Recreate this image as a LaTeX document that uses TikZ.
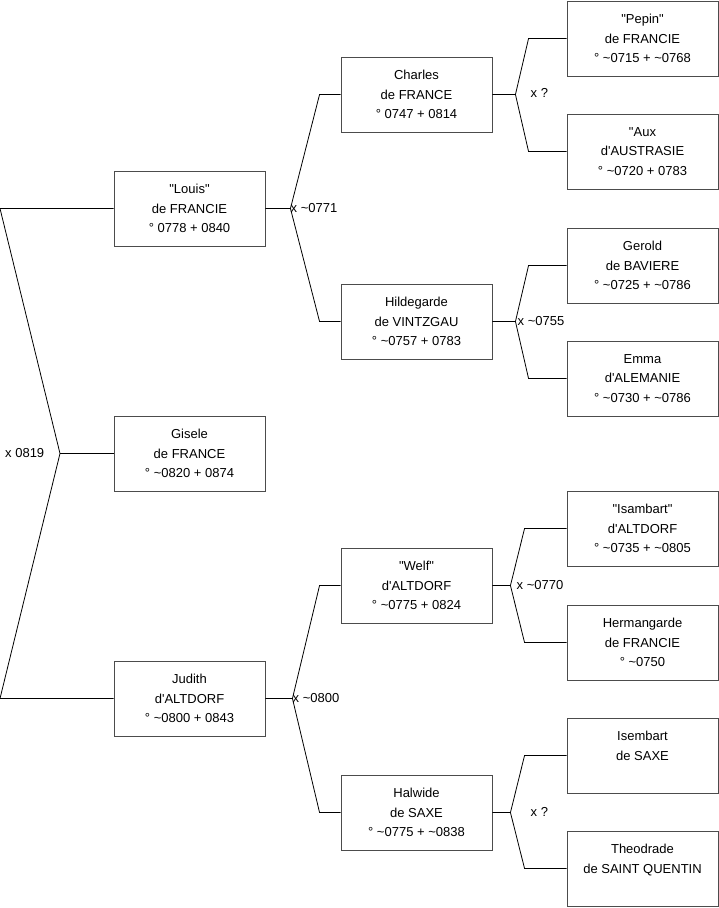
\documentclass[tikz,border=0pt]{standalone}
\usepackage{fontspec}
\usepackage{tikz}
\usetikzlibrary{calc}
\newfontfamily\boxfont{Liberation Sans}
\newcommand{\tld}{\textasciitilde}

\begin{document}
\begin{tikzpicture}[
  x=1pt, y=-1pt,
  every node/.style={font=\boxfont\fontsize{13}{19.7}\selectfont},
  person/.style={draw=black!70, line width=0.9pt, minimum width=151pt,
    minimum height=75pt, inner sep=0pt, align=center},
  union/.style={anchor=west, inner sep=0pt},
  link/.style={draw=black, line width=0.8pt},
]
\useasboundingbox (0,0) rectangle (719,908);

% Child and her parents
\node[person] (louis)  at (189.5,208.5) {"Louis"\\de FRANCIE\\° 0778 + 0840};
\node[person] (gisele) at (189.5,453.5) {Gisele\\de FRANCE\\° \tld0820 + 0874};
\node[person] (judith) at (189.5,698.5) {Judith\\d'ALTDORF\\° \tld0800 + 0843};

% Grandparents
\node[person] (charles)    at (416.5,94.5)  {Charles\\de FRANCE\\° 0747 + 0814};
\node[person] (hildegarde) at (416.5,321.5) {Hildegarde\\de VINTZGAU\\° \tld0757 + 0783};
\node[person] (welf)       at (416.5,585.5) {"Welf"\\d'ALTDORF\\° \tld0775 + 0824};
\node[person] (halwide)    at (416.5,812.5) {Halwide\\de SAXE\\° \tld0775 + \tld0838};

% Great-grandparents
\node[person] (pepin)       at (642.5,38.5)  {"Pepin"\\de FRANCIE\\° \tld0715 + \tld0768};
\node[person] (aux)         at (642.5,151.5) {"Aux\\d'AUSTRASIE\\° \tld0720 + 0783};
\node[person] (gerold)      at (642.5,265.5) {Gerold\\de BAVIERE\\° \tld0725 + \tld0786};
\node[person] (emma)        at (642.5,378.5) {Emma\\d'ALEMANIE\\° \tld0730 + \tld0786};
\node[person] (isambart)    at (642.5,528.5) {"Isambart"\\d'ALTDORF\\° \tld0735 + \tld0805};
\node[person] (hermangarde) at (642.5,642.5) {Hermangarde\\de FRANCIE\\° \tld0750};
\node[person] (isembart)    at (642.5,755.5) {Isembart\\de SAXE\\\mbox{}};
\node[person] (theodrade)   at (642.5,868.5) {Theodrade\\de SAINT QUENTIN\\\mbox{}};

% Root fork
\coordinate (r0) at (60,453.5);
\draw[link] (louis.west) -- (louis.west -| 0,0) -- (r0) -- (judith.west -| 0,0) -- (judith.west);
\draw[link] (r0) -- (gisele.west);
\node[union] at ([xshift=-55pt]r0) {x 0819};

% Parents of Louis
\draw[link] (louis.east) -- ++(25,0) coordinate (m1) -- ([xshift=-21pt]charles.west) -- (charles.west);
\draw[link] (m1) -- ([xshift=-21pt]hildegarde.west) -- (hildegarde.west);
\node[union] at (m1) {x \tld0771};

% Parents of Judith
\draw[link] (judith.east) -- ++(27,0) coordinate (m2) -- ([xshift=-21pt]welf.west) -- (welf.west);
\draw[link] (m2) -- ([xshift=-21pt]halwide.west) -- (halwide.west);
\node[union] at (m2) {x \tld0800};

% Parents of Charles
\draw[link] (charles.east) -- ++(23,0) coordinate (m3) -- ([xshift=-38pt]pepin.west) -- (pepin.west);
\draw[link] (m3) -- ([xshift=-38pt]aux.west) -- (aux.west);
\node[union] at ([xshift=15pt,yshift=2pt]m3) {x ?};

% Parents of Hildegarde
\draw[link] (hildegarde.east) -- ++(23,0) coordinate (m4) -- ([xshift=-38pt]gerold.west) -- (gerold.west);
\draw[link] (m4) -- ([xshift=-38pt]emma.west) -- (emma.west);
\node[union] at ([xshift=2pt]m4) {x \tld0755};

% Parents of Welf
\draw[link] (welf.east) -- ++(18,0) coordinate (m5) -- ([xshift=-42pt]isambart.west) -- (isambart.west);
\draw[link] (m5) -- ([xshift=-42pt]hermangarde.west) -- (hermangarde.west);
\node[union] at ([xshift=6pt]m5) {x \tld0770};

% Parents of Halwide
\draw[link] (halwide.east) -- ++(18,0) coordinate (m6) -- ([xshift=-42pt]isembart.west) -- (isembart.west);
\draw[link] (m6) -- ([xshift=-42pt]theodrade.west) -- (theodrade.west);
\node[union] at ([xshift=20pt,yshift=1pt]m6) {x ?};

\end{tikzpicture}
\end{document}
